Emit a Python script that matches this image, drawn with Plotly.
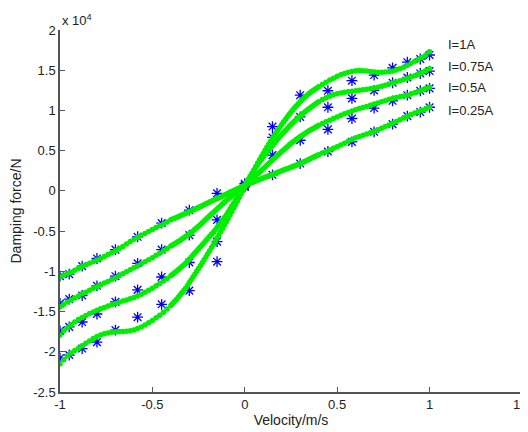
import plotly.graph_objects as go

# sample velocities of the model curves (m/s)
x_model = [
    -1.00, -0.98, -0.96, -0.94, -0.92, -0.90, -0.88, -0.86, -0.84, -0.82,
    -0.80, -0.78, -0.76, -0.74, -0.72, -0.70, -0.68, -0.66, -0.64, -0.62,
    -0.60, -0.58, -0.56, -0.54, -0.52, -0.50, -0.48, -0.46, -0.44, -0.42,
    -0.40,
    -0.39, -0.38, -0.37, -0.36, -0.35, -0.34, -0.33, -0.32, -0.31, -0.30,
    -0.29, -0.28, -0.27, -0.26, -0.25, -0.24, -0.23, -0.22, -0.21, -0.20,
    -0.19, -0.18, -0.17, -0.16, -0.15, -0.14, -0.13, -0.12, -0.11, -0.10,
    -0.09, -0.08, -0.07, -0.06, -0.05, -0.04, -0.03, -0.02, -0.01, 0.00,
    0.01, 0.02, 0.03, 0.04, 0.05, 0.06, 0.07, 0.08, 0.09, 0.10,
    0.11, 0.12, 0.13, 0.14, 0.15, 0.16, 0.17, 0.18, 0.19, 0.20,
    0.21, 0.22, 0.23, 0.24, 0.25, 0.26, 0.27, 0.28, 0.29, 0.30,
    0.31, 0.32, 0.33, 0.34, 0.35, 0.36, 0.37, 0.38, 0.39,
    0.40, 0.42, 0.44, 0.46, 0.48, 0.50, 0.52, 0.54, 0.56, 0.58,
    0.60, 0.62, 0.64, 0.66, 0.68, 0.70, 0.72, 0.74, 0.76, 0.78,
    0.80, 0.82, 0.84, 0.86, 0.88, 0.90, 0.92, 0.94, 0.96, 0.98,
    1.00,
]

# model damping force, units of 1e4 N
model_025 = [
    -1.07, -1.05, -1.03, -1.01, -0.985, -0.96, -0.94, -0.92, -0.90, -0.88,
    -0.86, -0.84, -0.815, -0.79, -0.77, -0.745, -0.72, -0.69, -0.66, -0.63,
    -0.60, -0.575, -0.55, -0.53, -0.505, -0.48, -0.455, -0.43, -0.41, -0.385,
    -0.36,
    -0.35, -0.34, -0.33, -0.32, -0.31, -0.30, -0.29, -0.28, -0.27, -0.26,
    -0.249, -0.238, -0.227, -0.216, -0.205, -0.194, -0.183, -0.172, -0.161, -0.15,
    -0.139, -0.128, -0.117, -0.106, -0.095, -0.084, -0.073, -0.062, -0.051, -0.04,
    -0.029, -0.018, -0.007, 0.004, 0.015, 0.026, 0.037, 0.048, 0.059, 0.07,
    0.079, 0.088, 0.097, 0.106, 0.115, 0.124, 0.133, 0.142, 0.151, 0.16,
    0.169, 0.178, 0.187, 0.196, 0.205, 0.214, 0.223, 0.232, 0.241, 0.25,
    0.259, 0.268, 0.277, 0.286, 0.295, 0.304, 0.313, 0.322, 0.331, 0.34,
    0.351, 0.362, 0.373, 0.384, 0.395, 0.406, 0.417, 0.428, 0.439,
    0.45, 0.47, 0.49, 0.51, 0.53, 0.55, 0.572, 0.594, 0.616, 0.638,
    0.66, 0.676, 0.692, 0.708, 0.724, 0.74, 0.76, 0.78, 0.80, 0.82,
    0.84, 0.862, 0.884, 0.906, 0.928, 0.95, 0.968, 0.986, 1.004, 1.022,
    1.04,
]
model_05 = [
    -1.44, -1.41, -1.38, -1.355, -1.33, -1.305, -1.28, -1.26, -1.235, -1.21,
    -1.19, -1.17, -1.145, -1.125, -1.10, -1.08, -1.055, -1.03, -1.005, -0.98,
    -0.955, -0.93, -0.905, -0.88, -0.855, -0.83, -0.80, -0.775, -0.745, -0.715,
    -0.685,
    -0.671, -0.657, -0.643, -0.629, -0.615, -0.599, -0.583, -0.567, -0.551, -0.535,
    -0.516, -0.497, -0.478, -0.459, -0.44, -0.418, -0.396, -0.374, -0.352, -0.33,
    -0.309, -0.288, -0.267, -0.246, -0.225, -0.204, -0.183, -0.162, -0.141, -0.12,
    -0.101, -0.082, -0.063, -0.044, -0.025, -0.006, 0.013, 0.032, 0.051, 0.07,
    0.09, 0.11, 0.13, 0.15, 0.17, 0.191, 0.212, 0.233, 0.254, 0.275,
    0.297, 0.319, 0.341, 0.363, 0.385, 0.406, 0.427, 0.448, 0.469, 0.49,
    0.51, 0.53, 0.55, 0.57, 0.59, 0.607, 0.624, 0.641, 0.658, 0.675,
    0.69, 0.705, 0.72, 0.735, 0.75, 0.763, 0.776, 0.789, 0.802,
    0.815, 0.838, 0.86, 0.88, 0.90, 0.92, 0.94, 0.958, 0.976, 0.995,
    1.01, 1.025, 1.038, 1.05, 1.065, 1.08, 1.094, 1.108, 1.122, 1.136,
    1.15, 1.16, 1.17, 1.18, 1.19, 1.205, 1.22, 1.24, 1.255, 1.272,
    1.29,
]
model_075 = [
    -1.79, -1.74, -1.70, -1.665, -1.63, -1.60, -1.575, -1.55, -1.525, -1.505,
    -1.485, -1.465, -1.45, -1.43, -1.415, -1.40, -1.385, -1.37, -1.355, -1.34,
    -1.325, -1.305, -1.285, -1.26, -1.235, -1.21, -1.18, -1.15, -1.12, -1.09,
    -1.055,
    -1.036, -1.017, -0.998, -0.979, -0.96, -0.94, -0.92, -0.90, -0.875, -0.85,
    -0.824, -0.798, -0.772, -0.746, -0.72, -0.695, -0.669, -0.643, -0.617, -0.591,
    -0.565, -0.539, -0.513, -0.487, -0.456, -0.425, -0.394, -0.363, -0.332, -0.30,
    -0.263, -0.226, -0.189, -0.152, -0.115, -0.078, -0.041, -0.004, 0.033, 0.07,
    0.108, 0.146, 0.184, 0.221, 0.257, 0.292, 0.326, 0.359, 0.391, 0.422,
    0.452, 0.481, 0.51, 0.538, 0.566, 0.594, 0.621, 0.648, 0.675, 0.701,
    0.727, 0.752, 0.777, 0.801, 0.825, 0.848, 0.87, 0.891, 0.912, 0.932,
    0.952, 0.971, 0.99, 1.008, 1.026, 1.043, 1.06, 1.076, 1.092,
    1.107, 1.135, 1.158, 1.178, 1.194, 1.207, 1.218, 1.227, 1.234, 1.24,
    1.246, 1.252, 1.258, 1.264, 1.27, 1.278, 1.29, 1.302, 1.315, 1.328,
    1.342, 1.356, 1.37, 1.385, 1.40, 1.416, 1.433, 1.452, 1.472, 1.495,
    1.52,
]
model_1 = [
    -2.15, -2.10, -2.05, -2.015, -1.985, -1.955, -1.925, -1.895, -1.865, -1.835,
    -1.81, -1.79, -1.775, -1.765, -1.758, -1.752, -1.75, -1.748, -1.745, -1.738,
    -1.728, -1.712, -1.692, -1.668, -1.64, -1.61, -1.578, -1.545, -1.508, -1.468,
    -1.425,
    -1.40, -1.375, -1.349, -1.322, -1.295, -1.267, -1.239, -1.21, -1.175, -1.14,
    -1.105, -1.07, -1.035, -1.0, -0.965, -0.93, -0.893, -0.856, -0.818, -0.78,
    -0.743, -0.705, -0.668, -0.63, -0.589, -0.548, -0.507, -0.466, -0.425, -0.384,
    -0.342, -0.30, -0.257, -0.214, -0.171, -0.127, -0.083, -0.039, 0.006, 0.05,
    0.093, 0.136, 0.178, 0.22, 0.262, 0.304, 0.346, 0.387, 0.427, 0.466,
    0.505, 0.543, 0.58, 0.617, 0.653, 0.689, 0.724, 0.759, 0.793, 0.826,
    0.858, 0.889, 0.92, 0.95, 0.979, 1.007, 1.034, 1.06, 1.085, 1.109,
    1.132, 1.154, 1.175, 1.195, 1.214, 1.232, 1.249, 1.265, 1.28,
    1.295, 1.324, 1.352, 1.378, 1.402, 1.424, 1.444, 1.461, 1.475, 1.486,
    1.493, 1.496, 1.495, 1.49, 1.484, 1.479, 1.476, 1.475, 1.477, 1.482,
    1.49, 1.502, 1.518, 1.538, 1.562, 1.588, 1.613, 1.638, 1.662, 1.69,
    1.73,
]

# measured points
x_exp = [-1, -0.95, -0.88, -0.8, -0.7, -0.58, -0.45, -0.3, -0.15, 0,
         0.15, 0.3, 0.45, 0.58, 0.7, 0.8, 0.88, 0.95, 1]
exp_025 = [-1.06, -1.035, -0.935, -0.84, -0.73, -0.57, -0.40, -0.24, -0.03, 0.09,
           0.20, 0.34, 0.49, 0.61, 0.735, 0.83, 0.93, 0.98, 1.04]
exp_05 = [-1.40, -1.345, -1.30, -1.18, -1.06, -0.90, -0.73, -0.55, -0.36, 0.07,
          0.445, 0.63, 0.765, 0.90, 1.03, 1.12, 1.19, 1.245, 1.275]
exp_075 = [-1.74, -1.69, -1.63, -1.53, -1.38, -1.23, -1.07, -0.89, -0.63, 0.06,
           0.665, 0.92, 1.04, 1.15, 1.25, 1.345, 1.41, 1.46, 1.49]
exp_1 = [-2.08, -2.04, -1.96, -1.88, -1.73, -1.57, -1.41, -1.24, -0.88, 0.05,
         0.80, 1.19, 1.245, 1.37, 1.44, 1.53, 1.60, 1.64, 1.69]

labels = ["I=1A", "I=0.75A", "I=0.5A", "I=0.25A"]
label_y = [1.825, 1.55, 1.28, 1.0]

x_ticks = [-1, -0.5, 0, 0.5, 1, 1.5]
x_ticktext = ["-1", "-0.5", "0", "0.5", "1", "1.5"]
y_ticks = [-2.5, -2, -1.5, -1, -0.5, 0, 0.5, 1, 1.5, 2]
y_ticktext = ["-2.5", "-2", "-1.5", "-1", "-0.5", "0", "0.5", "1", "1.5", "2"]

font = "Liberation Sans, Arial, sans-serif"
axis_col = "#555555"

fig = go.Figure()

for ys in [exp_025, exp_05, exp_075, exp_1]:
    fig.add_trace(go.Scatter(
        x=x_exp, y=ys, mode="markers",
        marker=dict(symbol="asterisk-open", size=9, color="#0000ff",
                    line=dict(color="#0000ff", width=1.3)),
        showlegend=False, hoverinfo="skip"))

for ys in [model_025, model_05, model_075, model_1]:
    fig.add_trace(go.Scatter(
        x=x_model, y=ys, mode="markers",
        marker=dict(symbol="circle", size=5.5, color="#00ee00", line=dict(width=0)),
        showlegend=False, hoverinfo="skip"))

for txt, yy in zip(labels, label_y):
    fig.add_annotation(x=1.09, y=yy, xref="x", yref="y", text=txt, showarrow=False,
                       xanchor="left", yanchor="middle",
                       font=dict(family=font, size=13, color="#222222"))

fig.add_annotation(x=0, y=1, xref="paper", yref="paper", text="x 10<sup>4</sup>",
                   showarrow=False, xanchor="left", yanchor="bottom", yshift=0,
                   font=dict(family=font, size=13, color="#222222"))

# the page body adds an 8px offset; the extra right margin lets "1.5" show
fig.update_layout(
    width=528, height=424,
    margin=dict(l=52, r=14, t=22, b=40),
    paper_bgcolor="white", plot_bgcolor="white",
    font=dict(family=font, size=13, color="#222222"),
    xaxis=dict(range=[-1, 1.5005], tickvals=x_ticks, ticktext=x_ticktext,
               showgrid=False, zeroline=False, showline=True, linecolor=axis_col,
               linewidth=1.5, ticks="inside", ticklen=5, tickcolor=axis_col,
               automargin=False, ticklabeloverflow="allow",
               title=dict(text="Velocity/m/s", font=dict(size=14), standoff=2)),
    yaxis=dict(range=[-2.5, 2.0005], tickvals=y_ticks, ticktext=y_ticktext,
               showgrid=False, zeroline=False, showline=True, linecolor=axis_col,
               linewidth=1.5, ticks="inside", ticklen=5, tickcolor=axis_col,
               automargin=False,
               title=dict(text="Damping force/N", font=dict(size=14), standoff=8)),
)

fig.write_html("out.html")
